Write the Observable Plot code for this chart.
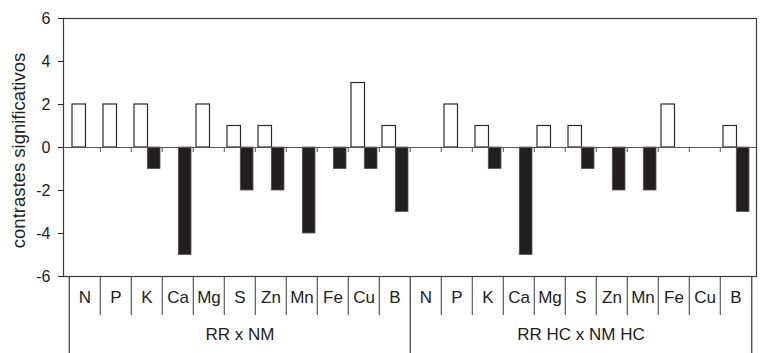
<!DOCTYPE html>
<html>
<head>
<meta charset="utf-8">
<script src="https://cdn.jsdelivr.net/npm/d3@7"></script>
<script src="https://cdn.jsdelivr.net/npm/@observablehq/plot@0.6"></script>
<style>
  html, body { margin: 0; padding: 0; background: #fff; }
  #chart svg { display: block; }
</style>
</head>
<body>
<div id="chart"></div>
<script>
const groups = ["RR x NM", "RR HC x NM HC"];
const nutrients = ["N", "P", "K", "Ca", "Mg", "S", "Zn", "Mn", "Fe", "Cu", "B"];
const positiveRRxNM = [2, 2, 2, 0, 2, 1, 1, 0, 0, 3, 1];
const negativeRRxNM = [0, 0, -1, -5, 0, -2, -2, -4, -1, -1, -3];
const positiveHC = [0, 2, 1, 0, 1, 1, 0, 0, 2, 0, 1];
const negativeHC = [0, 0, -1, -5, 0, -1, -2, -2, 0, 0, -3];
const yTicks = [-6, -4, -2, 0, 2, 4, 6];
const yLabel = "contrastes significativos";

const positives = [positiveRRxNM, positiveHC];
const negatives = [negativeRRxNM, negativeHC];

const rows = [];
groups.forEach((g, gi) => {
  nutrients.forEach((n, ni) => {
    rows.push({key: g + "|" + n, group: g, nutrient: n, ni, pos: positives[gi][ni], neg: negatives[gi][ni]});
  });
});
const keys = rows.map(d => d.key);
const groupRows = groups.map(g => ({group: g, key: g + "|" + nutrients[Math.floor(nutrients.length / 2)]}));
const groupStarts = groups.map(g => g + "|" + nutrients[0]);
const lastKey = keys[keys.length - 1];

const W = 765, H = 353;
const mL = 63, mR = 9, mT = 18, mB = 77;
const bw = (W - mL - mR) / keys.length;
const pxPerUnit = (H - mT - mB) / (yTicks[yTicks.length - 1] - yTicks[0]);
const yMin = yTicks[0];
const labelRowBottom = yMin - 39 / pxPerUnit;
const groupRowBottom = yMin - 77 / pxPerUnit;
const tickBottom = -5 / pxPerUnit;

const lineColor = "#3a3a3a";
const font = "'Liberation Sans', Arial, Helvetica, sans-serif";

const chart = Plot.plot({
  width: W,
  height: H,
  marginLeft: mL,
  marginRight: mR,
  marginTop: mT,
  marginBottom: mB,
  style: {fontFamily: font, fontSize: "16px", color: "#222", background: "#fff"},
  x: {type: "band", domain: keys, padding: 0, axis: null},
  y: {domain: [yTicks[0], yTicks[yTicks.length - 1]], ticks: yTicks, tickFormat: d => String(d), tickSize: 5, tickPadding: 8, label: null},
  marks: [
    Plot.barY(rows.filter(d => d.pos !== 0), {x: "key", y: "pos", fill: "white", stroke: "#2a2a2a", strokeWidth: 1.2, insetLeft: 3, insetRight: 14.5}),
    Plot.barY(rows.filter(d => d.neg !== 0), {x: "key", y: "neg", fill: "#231f20", stroke: "#555", strokeWidth: 0.8, insetLeft: 16.3, insetRight: 2}),
    Plot.ruleY([0], {stroke: "#555", strokeWidth: 1.2}),
    Plot.ruleX(keys.slice(1), {x: d => d, y1: 0, y2: tickBottom, dx: -bw / 2, stroke: "#555", strokeWidth: 1}),
    Plot.frame({stroke: lineColor, strokeWidth: 1.2}),
    Plot.ruleX(rows.filter(d => d.ni > 0).map(d => d.key), {x: d => d, y1: yMin, y2: labelRowBottom, dx: -bw / 2, stroke: lineColor, strokeWidth: 1}),
    Plot.ruleX(groupStarts, {x: d => d, y1: yMin, y2: groupRowBottom, dx: -bw / 2, stroke: lineColor, strokeWidth: 1.2}),
    Plot.ruleX([lastKey], {x: d => d, y1: yMin, y2: groupRowBottom, dx: bw / 2, stroke: lineColor, strokeWidth: 1.2}),
    Plot.text(rows, {x: "key", text: "nutrient", frameAnchor: "bottom", dy: 26, fontSize: 17, fill: "#222"}),
    Plot.text(groupRows, {x: "key", text: "group", frameAnchor: "bottom", dy: 63, fontSize: 17, fill: "#222"}),
    Plot.text([yLabel], {text: d => d, frameAnchor: "left", textAnchor: "middle", rotate: -90, dx: -44, dy: 3, fontSize: 18.5, fill: "#222"})
  ]
});
document.getElementById("chart").appendChild(chart);
</script>
</body>
</html>
